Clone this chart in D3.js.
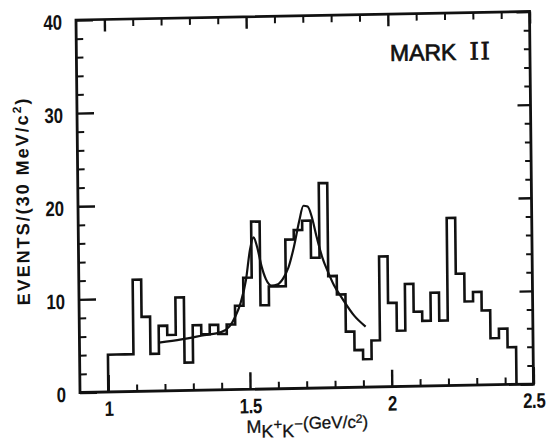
<!DOCTYPE html>
<html>
<head>
<meta charset="utf-8">
<script src="https://cdn.jsdelivr.net/npm/d3@7"></script>
<style>
  html, body { margin: 0; padding: 0; background: #fff; }
  svg { display: block; }
</style>
</head>
<body>
<svg id="chart" width="546" height="442"></svg>
<script>
// K+K- invariant mass spectrum in 30 MeV/c² bins, starting at 1.00 GeV/c²
const binStart = 1.0;
const binWidth = 0.03;
const counts = [4, 4, 4, 12, 8, 4, 7, 6, 10, 3, 7, 6, 7, 6, 7, 9, 12, 18, 9, 11, 11, 16, 17, 18,
                14, 22, 12, 10, 6, 4, 3, 5, 14, 9, 6, 11, 8, 7, 10, 7, 18, 12, 9, 10, 8, 5, 6, 4];

// Fitted curve: background plus f'(1525) and θ(1690) resonances
const fitMass   = [1.18, 1.26, 1.34, 1.40, 1.43, 1.45, 1.47, 1.49, 1.505, 1.518, 1.53, 1.545, 1.56, 1.58,
                   1.60, 1.62, 1.64, 1.66, 1.68, 1.695, 1.71, 1.725, 1.74, 1.76, 1.78, 1.80, 1.83, 1.87, 1.91];
const fitEvents = [5.2, 5.5, 5.9, 6.2, 6.8, 7.8, 9.3, 11.8, 15.0, 16.3, 15.3, 13.2, 11.8, 11.1,
                   11.2, 11.8, 13.0, 15.2, 18.0, 19.6, 19.5, 18.3, 16.3, 14.0, 12.4, 11.0, 9.5, 7.7, 6.5];

// Axis ticks
const xMajorTicks = [1, 1.5, 2, 2.5];
const xTickLabels = ["1", "1.5", "2", "2.5"];
const xMinorTicks = [1.1, 1.2, 1.3, 1.4, 1.6, 1.7, 1.8, 1.9, 2.1, 2.2, 2.3, 2.4];
const yMajorTicks = [0, 10, 20, 30, 40];
const yMinorTicks = [2, 4, 6, 8, 12, 14, 16, 18, 22, 24, 26, 28, 32, 34, 36, 38];

const W = 453.5, H = 372.5;
const ink = "#111";
const numFont = "'Liberation Sans', Arial, Helvetica, sans-serif";
const textFont = "'Liberation Sans', Arial, Helvetica, sans-serif";
const narrow = 0.8;   // horizontal squeeze for the condensed numerals

const svg = d3.select("#chart");
// plot group, slightly skewed like a hand-mounted print
const g = svg.append("g").attr("transform", "matrix(1,-0.01874,0.01074,1,76,20)");

const x = d3.scaleLinear().domain([0.9, 2.5]).range([0, W]);
const y = d3.scaleLinear().domain([0, 40]).range([H, 0]);

// histogram outline
const histPts = [[binStart, 0]];
counts.forEach((c, i) => histPts.push([binStart + i * binWidth, c]));
histPts.push([binStart + counts.length * binWidth, 0]);

g.append("path")
  .datum(histPts)
  .attr("fill", "none")
  .attr("stroke", ink)
  .attr("stroke-width", 2.6)
  .attr("stroke-linejoin", "miter")
  .attr("d", d3.line().x(d => x(d[0])).y(d => y(d[1])).curve(d3.curveStepAfter));

// fit curve
g.append("path")
  .datum(fitMass.map((m, i) => [m, fitEvents[i]]))
  .attr("fill", "none")
  .attr("stroke", ink)
  .attr("stroke-width", 2.2)
  .attr("d", d3.line().x(d => x(d[0])).y(d => y(d[1])).curve(d3.curveMonotoneX));

// frame
g.append("rect")
  .attr("x", 0).attr("y", 0).attr("width", W).attr("height", H)
  .attr("fill", "none").attr("stroke", ink).attr("stroke-width", 2.8);

function styleTicks(sel, width) {
  sel.select(".domain").remove();
  sel.selectAll(".tick line").attr("stroke", ink).attr("stroke-width", width);
}

// minor ticks, all four sides, pointing inward
g.append("g").attr("transform", `translate(0,${H})`)
  .call(d3.axisBottom(x).tickValues(xMinorTicks).tickSize(-7).tickFormat(""))
  .call(s => styleTicks(s, 2));
g.append("g")
  .call(d3.axisTop(x).tickValues(xMinorTicks).tickSize(-7).tickFormat(""))
  .call(s => styleTicks(s, 2));
g.append("g")
  .call(d3.axisLeft(y).tickValues(yMinorTicks).tickSize(-7).tickFormat(""))
  .call(s => styleTicks(s, 2));
g.append("g").attr("transform", `translate(${W},0)`)
  .call(d3.axisRight(y).tickValues(yMinorTicks).tickSize(-6).tickFormat(""))
  .call(s => styleTicks(s, 2));

// major ticks with labels
const xAxis = g.append("g").attr("transform", `translate(0,${H})`)
  .call(d3.axisBottom(x).tickValues(xMajorTicks).tickSize(-17).tickPadding(9)
        .tickFormat((d, i) => xTickLabels[i]))
  .call(s => styleTicks(s, 2.4));
xAxis.selectAll(".tick text")
  .attr("fill", ink)
  .attr("font-family", numFont)
  .attr("font-weight", "bold")
  .attr("font-size", 21)
  .attr("letter-spacing", -0.5)
  .attr("transform", `scale(${narrow},1)`);

g.append("g")
  .call(d3.axisTop(x).tickValues(xMajorTicks).tickSize(-12).tickFormat(""))
  .call(s => styleTicks(s, 2.4));

const yAxis = g.append("g")
  .call(d3.axisLeft(y).tickValues(yMajorTicks).tickSize(-17).tickPadding(14)
        .tickFormat(d3.format("d")))
  .call(s => styleTicks(s, 2.4));
yAxis.selectAll(".tick text")
  .attr("fill", ink)
  .attr("font-family", numFont)
  .attr("font-weight", "bold")
  .attr("font-size", 21)
  .attr("dy", "0.42em")
  .attr("x", -14 / narrow)
  .attr("transform", `scale(${narrow},1)`);

g.append("g").attr("transform", `translate(${W},0)`)
  .call(d3.axisRight(y).tickValues(yMajorTicks).tickSize(-13).tickFormat(""))
  .call(s => styleTicks(s, 2.4));

// experiment label
const mark = g.append("text")
  .attr("x", 313.5).attr("y", 47)
  .attr("fill", ink)
  .attr("stroke", ink)
  .attr("stroke-width", 0.7)
  .attr("font-family", textFont)
  .attr("font-size", 23);
mark.append("tspan").text("MARK ");
mark.append("tspan").attr("x", 393)
  .attr("font-family", "'DejaVu Serif', 'Liberation Serif', serif")
  .attr("font-size", 24)
  .attr("letter-spacing", 1.5)
  .text("II");

// y-axis title
const yTitle = g.append("text")
  .attr("transform", "translate(-49,180) rotate(-90)")
  .attr("text-anchor", "middle")
  .attr("fill", ink)
  .attr("font-family", textFont)
  .attr("font-weight", "bold")
  .attr("font-size", 18)
  .attr("letter-spacing", 2);
yTitle.append("tspan").text("EVENTS/(30 MeV/c");
yTitle.append("tspan").attr("font-size", 12).attr("dy", -7).text("2");
yTitle.append("tspan").attr("dy", 7).text(")");

// x-axis title
const xTitle = g.append("text")
  .attr("x", 166).attr("y", 416)
  .attr("fill", ink)
  .attr("stroke", ink)
  .attr("stroke-width", 0.3)
  .attr("font-family", textFont);
xTitle.append("tspan").attr("font-size", 18).text("M");
xTitle.append("tspan").attr("font-size", 18).attr("dy", 5).text("K");
xTitle.append("tspan").attr("font-size", 15).attr("dy", -8).text("+");
xTitle.append("tspan").attr("font-size", 18).attr("dy", 8).text("K");
xTitle.append("tspan").attr("font-size", 15).attr("dy", -8).text("−");
xTitle.append("tspan").attr("font-size", 17).attr("dy", 0).text("(GeV/c");
xTitle.append("tspan").attr("font-size", 12).attr("dy", -5).text("2");
xTitle.append("tspan").attr("font-size", 17).attr("dy", 5).text(")");
</script>
</body>
</html>
